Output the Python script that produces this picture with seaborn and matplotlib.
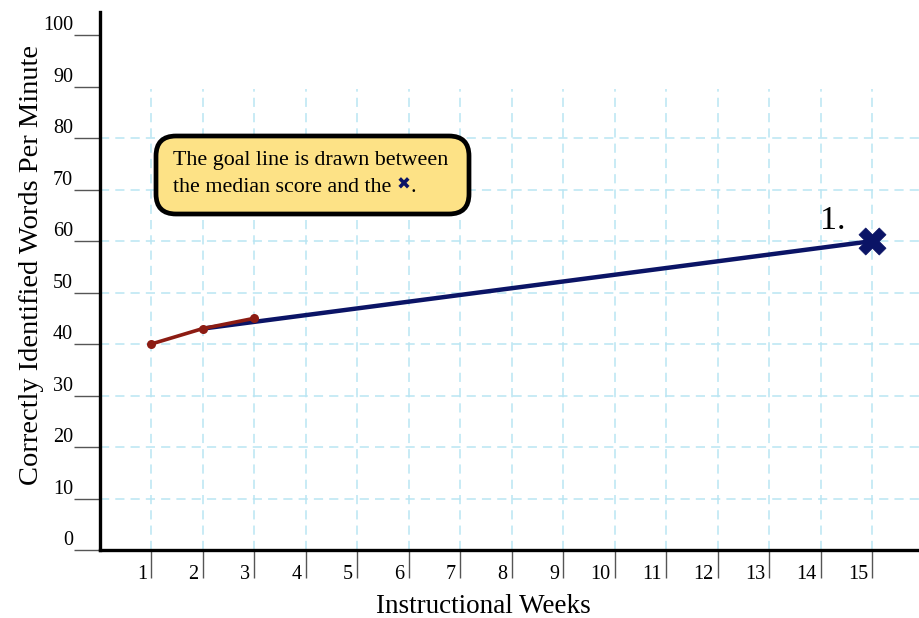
import matplotlib
matplotlib.use('Agg')
import matplotlib.pyplot as plt
import matplotlib.transforms as mtransforms
import seaborn as sns
import pandas as pd
from matplotlib.patches import FancyBboxPatch

# data
weeks = [1, 2, 3]
scores = [40, 43, 45]
goal_weeks = [2, 15]
goal_scores = [43, 60]
goal_week = [15]
goal_score = [60]
x_ticks = list(range(1, 16))
y_ticks = list(range(0, 101, 10))
grid_x = list(range(1, 16))
grid_y = list(range(10, 81, 10))

NAVY = '#0b1466'
RED = '#8c1c13'
GRID = '#b9e5f3'

sns.set_style('white')
plt.rcParams['font.family'] = ['Liberation Serif', 'DejaVu Sans']
plt.rcParams['text.color'] = 'black'
plt.rcParams['axes.labelcolor'] = 'black'
plt.rcParams['xtick.color'] = 'black'
plt.rcParams['ytick.color'] = 'black'

fig = plt.figure(figsize=(9.19, 6.18), dpi=100)
ax = fig.add_axes([0.1083, 0.110, 0.8917, 0.8706])

# grid
ax.vlines(grid_x, 0, 89.5, colors=GRID, linestyles=(0, (6, 4)), linewidth=1.1, zorder=0)
ax.hlines(grid_y, 0, 16, colors=GRID, linestyles=(0, (6, 4)), linewidth=1.1, zorder=0)

goal = pd.DataFrame({'week': goal_weeks, 'score': goal_scores})
sns.lineplot(data=goal, x='week', y='score', color=NAVY, linewidth=3.2, ax=ax, zorder=3)

obs = pd.DataFrame({'week': weeks, 'score': scores})
sns.lineplot(data=obs, x='week', y='score', color=RED, linewidth=2.6, marker='o',
             markersize=6.5, markeredgewidth=0, ax=ax, zorder=4)

end = pd.DataFrame({'week': goal_week, 'score': goal_score})
sns.scatterplot(data=end, x='week', y='score', marker='X', s=380, color=NAVY,
                edgecolor=NAVY, linewidth=0.5, ax=ax, zorder=5)

ax.text(13.98, 62.3, '1.', fontsize=24.5, ha='left', va='baseline')

ax.set_xlim(0, 15.91)
ax.set_ylim(0, 104.5)

sns.despine(ax=ax)
for s in ['left', 'bottom']:
    ax.spines[s].set_linewidth(2.4)
    ax.spines[s].set_color('black')

ax.set_xticks(x_ticks)
ax.set_yticks(y_ticks)
ax.set_xticklabels([str(v) for v in x_ticks])
ax.set_yticklabels([str(v) for v in y_ticks])
ax.tick_params(axis='y', left=True, direction='out', length=19, width=1.0,
               color='#555555', pad=0, labelsize=14.5, labelcolor='black')
ax.tick_params(axis='x', bottom=True, direction='out', length=20, width=1.0,
               color='#555555', pad=-9, labelsize=14.5, labelcolor='black')
for lab in ax.get_yticklabels():
    lab.set_va('bottom')
shift = mtransforms.ScaledTranslation(-3 / 72, 0, fig.dpi_scale_trans)
for lab in ax.get_xticklabels():
    lab.set_ha('right')
    lab.set_va('top')
    lab.set_transform(lab.get_transform() + shift)

ax.set_xlabel('Instructional Weeks', fontsize=19.5)
ax.set_ylabel('Correctly Identified Words Per Minute', fontsize=20.5)
ax.xaxis.set_label_coords(0.468, -0.081)
ax.yaxis.set_label_coords(-0.068, 0.53)

# callout box (inches from the lower left of the figure)
box = FancyBboxPatch((1.56, 4.04), 3.13, 0.78,
                     boxstyle='round,pad=0,rounding_size=0.2',
                     facecolor='#fde286', edgecolor='black', linewidth=3.4,
                     transform=fig.dpi_scale_trans, zorder=6)
ax.add_patch(box)
ax.text(1.73, 4.57, 'The goal line is drawn between', fontsize=15.8,
        ha='left', va='center', transform=fig.dpi_scale_trans, zorder=7)
t2 = ax.text(1.73, 4.30, 'the median score and the ', fontsize=15.8,
             ha='left', va='center', transform=fig.dpi_scale_trans, zorder=7)
t3 = ax.annotate('\u2716', xy=(1, 0), xycoords=t2, xytext=(0, 3), textcoords='offset points',
                 ha='left', va='bottom', fontsize=12, color=NAVY,
                 family='DejaVu Sans', zorder=7)
ax.annotate('.', xy=(1, 0), xycoords=t3, xytext=(0, -3), textcoords='offset points',
            ha='left', va='bottom', fontsize=15.8, zorder=7)

fig.savefig('out.png', dpi=100)
